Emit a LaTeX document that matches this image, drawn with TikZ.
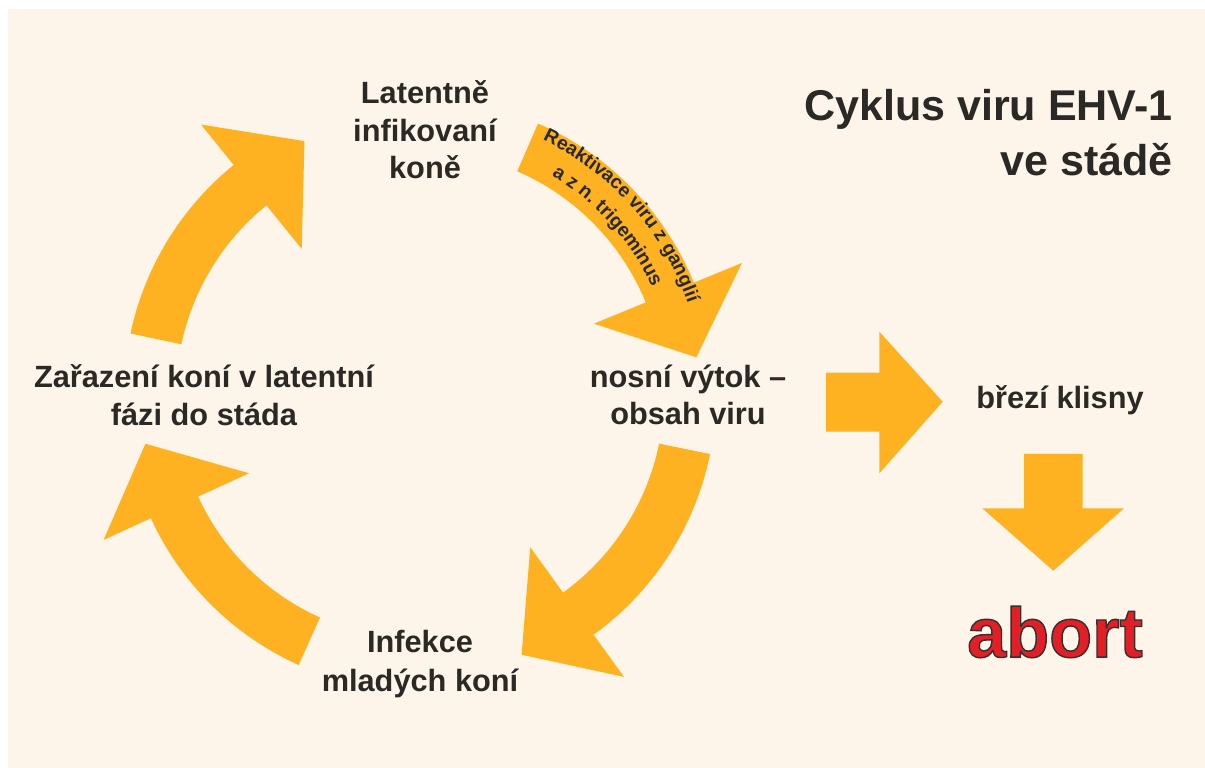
\documentclass[tikz,border=0pt]{standalone}
\usepackage{fontspec}
\setmainfont{Liberation Sans}
\usepackage{tikz}
\usetikzlibrary{calc,decorations.text}
\definecolor{cream}{RGB}{253,245,233}
\definecolor{amber}{RGB}{254,178,34}
\definecolor{ink}{RGB}{43,41,38}
\definecolor{abortred}{RGB}{226,30,38}

\begin{document}
\begin{tikzpicture}[x=0.02cm,y=0.02cm,lbl/.style={font=\bfseries\fontsize{17.5}{21.3}\selectfont,text=ink,align=center,inner sep=0pt},cyc/.style={fill=amber}]
\useasboundingbox (0,0) rectangle (1205,768);
\fill[white] (0,0) rectangle (1205,768);
\fill[cream] (8,0) rectangle (1205,759);
\coordinate (c) at (420,373);
\fill[cyc] ($(c)+(168:296)$) arc[start angle=168,end angle=129,radius=296] -- ($(c)+(129:348)$) -- ($(c)+(129:270)+(39:70)$) -- ($(c)+(129:188)$) -- ($(c)+(129:244)$) arc[start angle=129,end angle=168,radius=244] -- cycle;
\fill[cyc] ($(c)+(66.5:296)$) arc[start angle=66.5,end angle=22.3,radius=296] -- ($(c)+(22.3:348)$) -- ($(c)+(22.3:270)+(-67.7:70)$) -- ($(c)+(22.3:188)$) -- ($(c)+(22.3:244)$) arc[start angle=22.3,end angle=66.5,radius=244] -- cycle;
\fill[cyc] ($(c)+(-11.5:296)$) arc[start angle=-11.5,end angle=-54.1,radius=296] -- ($(c)+(-54.1:348)$) -- ($(c)+(-54.1:270)+(-144.1:70)$) -- ($(c)+(-54.1:188)$) -- ($(c)+(-54.1:244)$) arc[start angle=-54.1,end angle=-11.5,radius=244] -- cycle;
\fill[cyc] ($(c)+(245.8:296)$) arc[start angle=245.8,end angle=204.6,radius=296] -- ($(c)+(204.6:348)$) -- ($(c)+(204.6:270)+(114.6:70)$) -- ($(c)+(204.6:188)$) -- ($(c)+(204.6:244)$) arc[start angle=204.6,end angle=245.8,radius=244] -- cycle;
\path[decorate,decoration={text along path,text align=center,text={|\bfseries\fontsize{11}{13}\selectfont\color{ink}|Reaktivace viru z ganglií}}] ($(c)+(71.6:283)$) arc[start angle=71.6,end angle=11.6,radius=283];
\path[decorate,decoration={text along path,text align=center,text={|\bfseries\fontsize{11}{13}\selectfont\color{ink}|a z n. trigeminus}}] ($(c)+(72:256)$) arc[start angle=72,end angle=12,radius=256];
\fill[cyc] (826,395.3) -- (879.3,395.3) -- (879.3,436.3) -- (942.7,366.3) -- (879.3,294.7) -- (879.3,336.3) -- (826,336.3) -- cycle;
\fill[cyc] (1024,314) -- (1082.7,314) -- (1082.7,259.7) -- (1124,259.7) -- (1053.3,197.3) -- (982.3,259.7) -- (1024,259.7) -- cycle;
\node[lbl] (lat) at (425,638) {Latentně\\infikovaní\\koně};
\node[lbl] (zar) at (204,373) {Zařazení koní v latentní\\fázi do stáda};
\node[lbl] (nos) at (688,373) {nosní výtok –\\obsah viru};
\node[lbl,font=\bfseries\fontsize{17.5}{22.5}\selectfont] (inf) at (420,104) {Infekce\\mladých koní};
\node[lbl] (bre) at (1060,368) {březí klisny};
\node[lbl,font=\bfseries\fontsize{24.5}{31.3}\selectfont,align=right,anchor=east] (tit) at (1173,635) {Cyklus viru EHV-1\\ve stádě};
\node[font=\bfseries\fontsize{40}{48}\selectfont,text=abortred,inner sep=0pt] (abo) at (1055,136) {\special{pdf:literal direct q 0.2 0.19 0.18 RG 0.8 w 2 Tr}abort\special{pdf:literal direct Q}};
\end{tikzpicture}
\end{document}
